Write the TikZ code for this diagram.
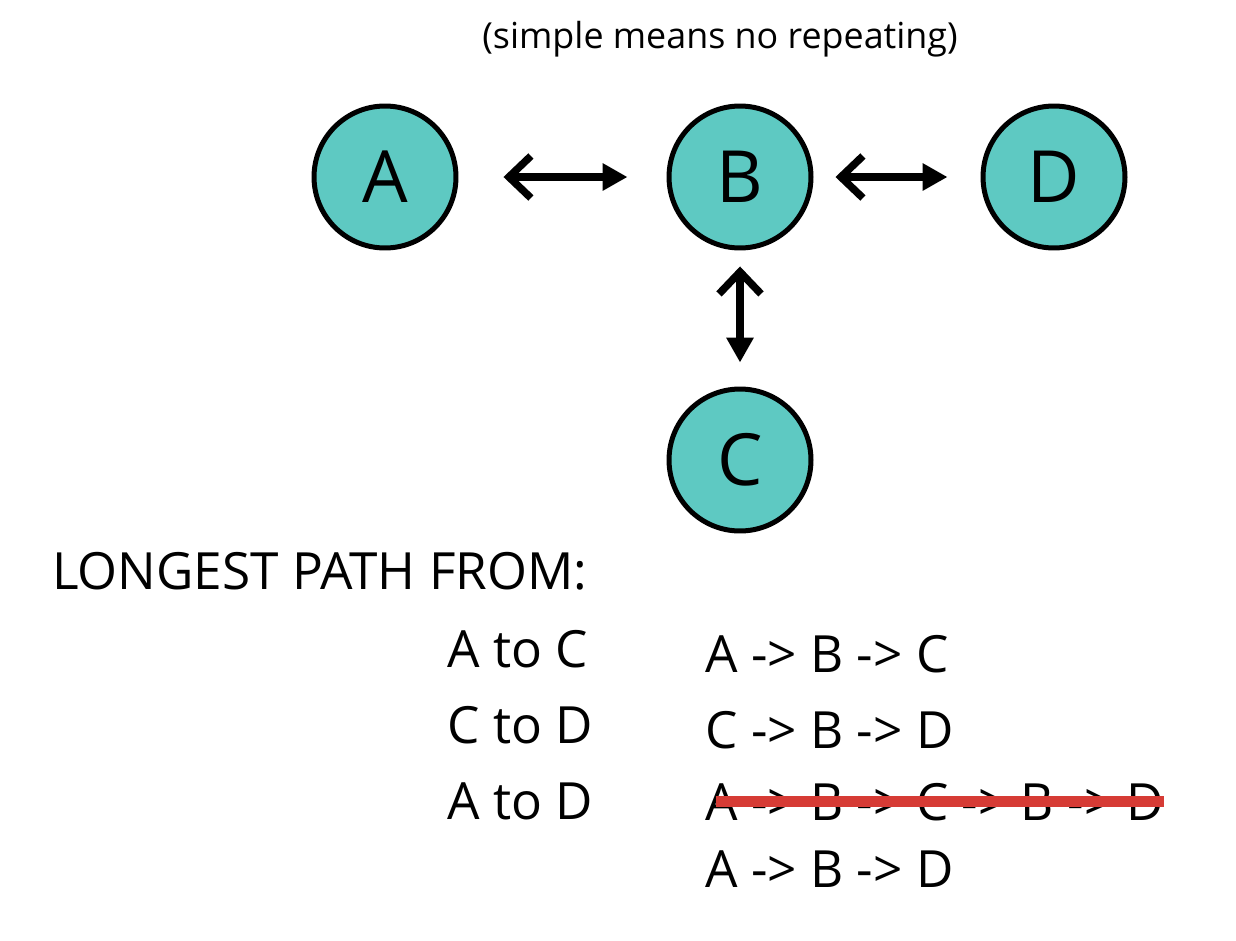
\documentclass[tikz,border=0pt]{standalone}
\usepackage{fontspec}
\setmainfont{Open Sans}
\usetikzlibrary{arrows.meta, positioning}
\definecolor{nodeteal}{RGB}{94, 201, 194}
\definecolor{strikered}{RGB}{214, 59, 53}

\begin{document}
\begin{tikzpicture}[x=0.02cm, y=-0.02cm,
  vertex/.style={circle, draw=black, line width=0.1cm, fill=nodeteal, minimum size=2.84cm, inner sep=0pt, font=\fontsize{41}{48}\selectfont},
  link/.style={line width=0.15cm, {Straight Barb[sharp, length=0.44cm, width=0.84cm]}-{Triangle[length=0.5cm, width=0.52cm]}},
  txt/.style={inner sep=0pt, font=\fontsize{29.2}{34}\selectfont},
  strike/.style={draw=strikered, line width=0.22cm}]
  \useasboundingbox (0,0) rectangle (1236,940);

  % Graph
  \node[vertex] (A) at (385,177) {A};
  \node[vertex] (B) at (740,177) {B};
  \node[vertex] (D) at (1054,177) {D};
  \node[vertex] (C) at (740,460) {C};

  \draw[link, shorten <=0.9cm, shorten >=0.78cm] (A) -- (B);
  \draw[link, shorten <=0.44cm, shorten >=0.66cm] (B) -- (D);
  \draw[link, shorten <=0.32cm, shorten >=0.48cm] (B) -- (C);

  % Note
  \node[inner sep=0pt, font=\fontsize{20.4}{24}\selectfont, anchor=base] (note) at (720,48) {(simple means no repeating)};

  % Longest paths
  \node[txt, anchor=base west] (heading) at (52,589) {LONGEST PATH FROM:};

  \node[txt, anchor=base west] (pairAC) at (447,667) {A to C};
  \node[txt, anchor=base west] (pairCD) at (447,743) {C to D};
  \node[txt, anchor=base west] (pairAD) at (447,819) {A to D};

  \node[txt, anchor=base west] (routeAC) at (705,672) {A -> B -> C};
  \node[txt, anchor=base west] (routeCD) at (705,748) {C -> B -> D};
  \node[txt, anchor=base west] (routeBad) at (705,820) {A -> B -> C -> B -> D};
  \node[txt, anchor=base west] (routeAD) at (705,887) {A -> B -> D};

  \draw[strike] ([xshift=0.22cm, yshift=0.38cm]routeBad.base west) -- ([yshift=0.38cm]routeBad.base east);
\end{tikzpicture}
\end{document}
